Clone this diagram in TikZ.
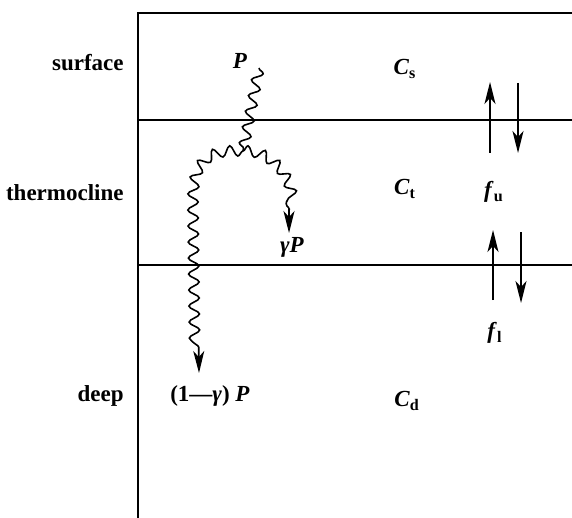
\documentclass[tikz,border=0pt]{standalone}
\usepackage{fontspec}
\setmainfont{Liberation Serif}
\usepackage{tikz}
\usetikzlibrary{arrows.meta, decorations.pathmorphing, positioning}

\newcommand{\sym}[2]{\textit{#1}\textsubscript{#2}}

\begin{document}
\begin{tikzpicture}[
    x=0.5pt, y=-0.5pt,
    font=\fontsize{11.5}{13}\selectfont\bfseries,
    boundary/.style={line width=0.9pt},
    layer/.style={anchor=east, inner sep=0pt},
    conc/.style={inner sep=1pt},
    wave/.style={line width=0.8pt, decorate, decoration={snake, amplitude=2.6pt, segment length=8pt, post=lineto, post length=#1}},
    wave/.default=11pt,
    tip/.style={-{Stealth[length=11pt, width=5.5pt, inset=3pt]}},
    flux/.style={line width=0.9pt, tip},
]
    \useasboundingbox (0,0) rectangle (572,518);

    % Box and layer boundaries
    \draw[boundary] (138,518) -- (138,13) -- (572,13);
    \draw[boundary] (138,120) -- (572,120);
    \draw[boundary] (138,265) -- (572,265);

    % Layer names
    \node[layer] (surf) at (124,63) {surface};
    \node[layer] (therm) at (124,193) {thermocline};
    \node[layer] (deep) at (124,396) {deep};

    % Concentrations and fluxes
    \node[conc] (cs) at (405,69) {\sym{C}{s}};
    \node[conc] (ct) at (405,189) {\sym{C}{t}};
    \node[conc] (cd) at (407,401) {\sym{C}{d}};
    \node[conc] (fu) at (494,192) {\sym{f}{u}};
    \node[conc] (fl) at (495,333) {\sym{f}{l}};

    % Production and its fate
    \node[conc] (p) at (240,61) {\textit{P}};
    \node[conc] (gp) at (292,247) {\textit{γP}};
    \node[conc] (rest) at (210,396) {(1—\textit{γ}) \textit{P}};

    \coordinate (src) at (259,68);
    \coordinate (junc) at (243,151);
    \coordinate (gtip) at (289,233);
    \coordinate (rtip) at (199,373);

    \draw[wave=0.1pt] (src) -- (junc);
    \draw[wave, tip] (junc) .. controls (212,150) and (197,162) .. (197,200) -- (rtip);
    \draw[wave, tip] (junc) .. controls (262,151) and (289,170) .. (289,205) -- (gtip);

    % Exchange arrows
    \coordinate (u1a) at (490,153); \coordinate (u1b) at (490,82);
    \coordinate (d1a) at (518,83);  \coordinate (d1b) at (518,153);
    \coordinate (u2a) at (493,300); \coordinate (u2b) at (493,230);
    \coordinate (d2a) at (521,232); \coordinate (d2b) at (521,303);
    \draw[flux] (u1a) -- (u1b);
    \draw[flux] (d1a) -- (d1b);
    \draw[flux] (u2a) -- (u2b);
    \draw[flux] (d2a) -- (d2b);
\end{tikzpicture}
\end{document}
